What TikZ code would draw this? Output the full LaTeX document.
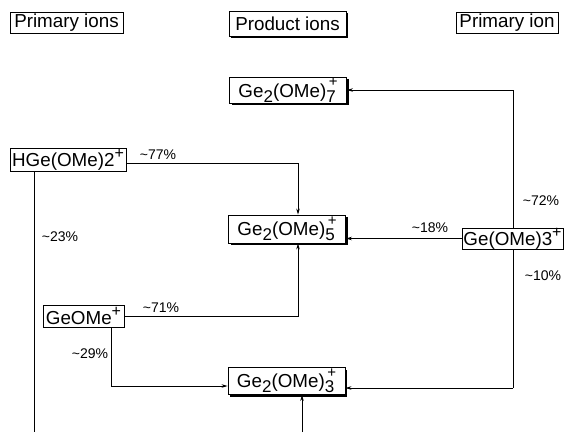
\documentclass[tikz,border=0pt]{standalone}
\usepackage{fontspec}
\setmainfont{Liberation Sans}
\usetikzlibrary{arrows.meta,shadows}
\newcommand\ionsub[1]{\raisebox{-0.5ex}{\fontsize{17}{17}\selectfont #1}}
\newcommand\ionsubsup[2]{\rlap{\raisebox{-0.5ex}{\fontsize{17}{17}\selectfont #1}}\raisebox{1.05ex}{\fontsize{15}{15}\selectfont\,#2}}
\newcommand\ionsup[1]{\raisebox{0.8ex}{\fontsize{16}{16}\selectfont #1}}
\begin{document}
\begin{tikzpicture}[x=1pt,y=-1pt,
  every node/.style={font=\fontsize{18.8}{18.8}\selectfont, inner sep=0pt},
  primbox/.style={draw, line width=0.8pt, fill=white, minimum height=21pt},
  prodbox/.style={draw, line width=0.9pt, fill=white, minimum height=25pt, minimum width=117pt,
     drop shadow={shadow xshift=2.2pt, shadow yshift=-2.2pt, opacity=1, fill=black}},
  conn/.style={line width=0.7pt},
  arr/.style={conn, -{Stealth[length=6pt,width=3.5pt]}},
  pct/.style={font=\fontsize{14}{14}\selectfont}]
\useasboundingbox (0,0) rectangle (565,432);
% headers
\node[primbox, minimum width=113pt] (hp1) at (66.5,22.5) {Primary ions};
\node[prodbox] (hpr) at (287.5,23.5) {Product ions};
\node[primbox, minimum width=102pt] (hp2) at (507,22.5) {Primary ion};
% product ions
\node[prodbox, minimum height=26pt] (g7) at (288,90) {Ge\ionsub{2}(OMe)\ionsubsup{7}{+}\hspace{0.3em}};
\node[prodbox, minimum height=28pt] (g5) at (287,229) {Ge\ionsub{2}(OMe)\ionsubsup{5}{+}\hspace{0.3em}};
\node[prodbox, minimum height=27pt] (g3) at (286.5,381) {Ge\ionsub{2}(OMe)\ionsubsup{3}{+}\hspace{0.3em}};
% primary ions
\node[primbox, minimum width=116pt, minimum height=23pt] (h) at (68,159.5) {HGe(OMe)2\ionsup{+}};
\node[primbox, minimum width=101pt] (g) at (512.5,238.5) {Ge(OMe)3\ionsup{+}};
\node[primbox, minimum width=81pt, minimum height=22pt] (m) at (83.5,316) {GeOMe\ionsup{+}};
% free ends
\coordinate (hb) at (34,432);
\coordinate (b3) at (302,432);
\coordinate (r7) at (513,90);
\coordinate (r3) at (513,388);
% connectors
\draw[arr] (h.east |- 0,163) -| (g5.north -| 298,0);
\draw[arr] (m.east) -| (g5.south -| 298,0);
\draw[arr] (g.west) -- (g5.east |- g.west);
\draw[conn] (g.north -| r7) -- (r7);
\draw[arr] (r7) -- (g7.east |- r7);
\draw[conn] (g.south -| r3) -- (r3);
\draw[arr] (r3) -- (g3.east |- r3);
\draw[arr] (m.south -| 111,0) |- (g3.west |- 0,386);
\draw[conn] (h.south -| hb) -- (hb);
\draw[arr] (b3) -- (g3.south -| b3);
% labels
\node[pct] (l77) at (158,155) {\textasciitilde77\%};
\node[pct] (l72) at (541,201) {\textasciitilde72\%};
\node[pct] (l18) at (430,228) {\textasciitilde18\%};
\node[pct] (l10) at (543,276) {\textasciitilde10\%};
\node[pct] (l23) at (60,237) {\textasciitilde23\%};
\node[pct] (l71) at (161,308) {\textasciitilde71\%};
\node[pct] (l29) at (90,354) {\textasciitilde29\%};
\end{tikzpicture}
\end{document}
